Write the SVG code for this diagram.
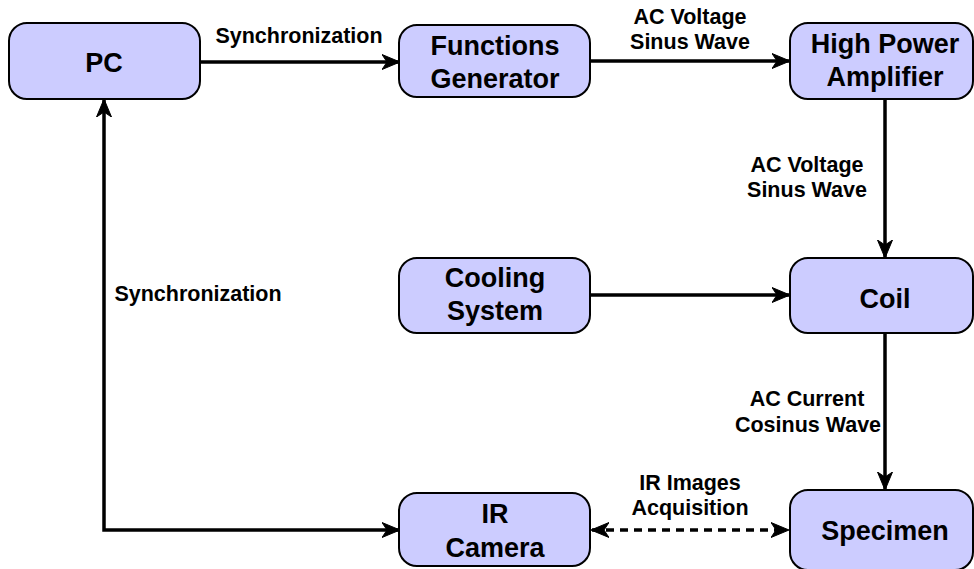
<svg xmlns="http://www.w3.org/2000/svg" width="974" height="569" viewBox="0 0 974 569">
<style>
.box{fill:#ccccff;stroke:#000;stroke-width:2}
.nt{font-family:"Liberation Sans",Arial,sans-serif;font-weight:bold;font-size:27px;text-anchor:middle;fill:#000}
.lt{font-family:"Liberation Sans",Arial,sans-serif;font-weight:bold;font-size:21.5px;text-anchor:middle;fill:#000}
.ln{fill:none;stroke:#000;stroke-width:3.5}
.dash{stroke-dasharray:8 6}
</style>
<defs>
<marker id="ah" viewBox="0 0 18 18" refX="17" refY="9" markerWidth="18" markerHeight="18" markerUnits="userSpaceOnUse" orient="auto-start-reverse">
<path d="M0,1.5 L18,9 L0,16.5 L5,9 Z" fill="#000" stroke="#000" stroke-width="1" stroke-linejoin="round"/>
</marker>
</defs>
<rect width="974" height="569" fill="#fff"/>
<g id="connectors">
<line class="ln" x1="200" y1="62" x2="399" y2="62" marker-end="url(#ah)"/>
<line class="ln" x1="590" y1="61" x2="789" y2="61" marker-end="url(#ah)"/>
<line class="ln" x1="885" y1="99" x2="885" y2="257" marker-end="url(#ah)"/>
<line class="ln" x1="590" y1="295" x2="789" y2="295" marker-end="url(#ah)"/>
<line class="ln" x1="885" y1="333" x2="885" y2="489" marker-end="url(#ah)"/>
<line class="ln dash" x1="592" y1="530" x2="788" y2="530" marker-start="url(#ah)" marker-end="url(#ah)"/>
<polyline class="ln" points="104,100 104,530 399,530" marker-start="url(#ah)" marker-end="url(#ah)"/>
<text class="lt" x="299" y="43">Synchronization</text>
<text class="lt" x="690" y="24">AC Voltage</text>
<text class="lt" x="690" y="49">Sinus Wave</text>
<text class="lt" x="807" y="172">AC Voltage</text>
<text class="lt" x="807" y="197">Sinus Wave</text>
<text class="lt" x="807" y="406">AC Current</text>
<text class="lt" x="808" y="432">Cosinus Wave</text>
<text class="lt" x="690" y="490">IR Images</text>
<text class="lt" x="690" y="515">Acquisition</text>
<text class="lt" x="198" y="301">Synchronization</text>
</g>
<g id="pc"><rect class="box" x="9" y="23" width="191" height="76" rx="18"/><text class="nt" x="104" y="72">PC</text></g>
<g id="functions-generator"><rect class="box" x="399" y="25" width="191" height="72" rx="18"/><text class="nt" x="495" y="55">Functions</text><text class="nt" x="495" y="88">Generator</text></g>
<g id="high-power-amplifier"><rect class="box" x="790" y="23" width="183" height="76" rx="18"/><text class="nt" x="885" y="53">High Power</text><text class="nt" x="885" y="86">Amplifier</text></g>
<g id="cooling-system"><rect class="box" x="399" y="258" width="191" height="75" rx="18"/><text class="nt" x="495" y="287">Cooling</text><text class="nt" x="495" y="320">System</text></g>
<g id="coil"><rect class="box" x="790" y="258" width="183" height="75" rx="18"/><text class="nt" x="885" y="308">Coil</text></g>
<g id="ir-camera"><rect class="box" x="399" y="493" width="191" height="73" rx="18"/><text class="nt" x="495" y="523">IR</text><text class="nt" x="495" y="557">Camera</text></g>
<g id="specimen"><rect class="box" x="790" y="490" width="183" height="80" rx="18"/><text class="nt" x="885" y="540">Specimen</text></g>
</svg>
